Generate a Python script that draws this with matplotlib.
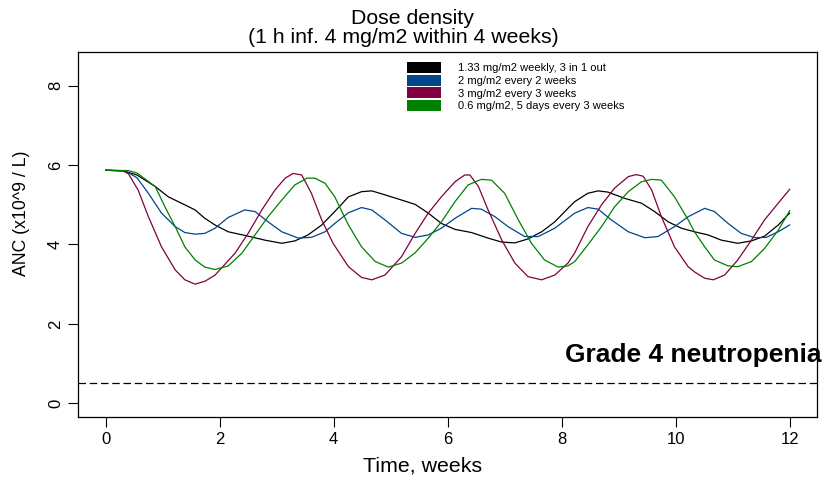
import matplotlib
matplotlib.use("Agg")
import matplotlib.pyplot as plt
from matplotlib.patches import Patch

plt.rcParams['font.family'] = ['Liberation Sans', 'DejaVu Sans']

# ANC curves (weeks, x10^9/L)
weeks_weekly = [0, 0.3, 0.55, 0.87, 1.10, 1.33, 1.57, 1.74, 1.92, 2.15, 2.50, 2.79, 3.09, 3.32,
                3.55, 3.79, 4.02, 4.26, 4.49, 4.67, 4.90, 5.19, 5.43, 5.66, 5.89, 6.13, 6.42,
                6.71, 6.95, 7.18, 7.41, 7.65, 7.88, 8.11, 8.23, 8.46, 8.64, 8.81, 9.11, 9.40,
                9.63, 9.87, 10.10, 10.33, 10.57, 10.80, 11.09, 11.33, 11.56, 11.80, 12.0]
anc_weekly = [5.87, 5.86, 5.75, 5.46, 5.20, 5.04, 4.87, 4.66, 4.49, 4.32, 4.21, 4.11, 4.03, 4.09,
              4.24, 4.49, 4.83, 5.20, 5.33, 5.35, 5.25, 5.12, 5.01, 4.79, 4.53, 4.38, 4.30,
              4.16, 4.06, 4.04, 4.14, 4.32, 4.57, 4.91, 5.08, 5.29, 5.35, 5.32, 5.16, 5.04,
              4.83, 4.57, 4.41, 4.32, 4.24, 4.11, 4.03, 4.09, 4.21, 4.49, 4.79]

weeks_2w = [0, 0.35, 0.55, 0.75, 0.98, 1.22, 1.39, 1.57, 1.74, 1.92, 2.15, 2.44, 2.62, 2.85,
            3.09, 3.38, 3.61, 3.85, 4.02, 4.26, 4.49, 4.67, 4.90, 5.19, 5.43, 5.66, 5.89,
            6.13, 6.42, 6.59, 6.83, 7.06, 7.35, 7.59, 7.88, 8.23, 8.46, 8.64, 8.87, 9.17,
            9.46, 9.69, 9.98, 10.22, 10.51, 10.68, 10.92, 11.15, 11.39, 11.59, 11.80, 12.0]
anc_2w = [5.87, 5.85, 5.68, 5.29, 4.79, 4.45, 4.30, 4.26, 4.28, 4.41, 4.68, 4.87, 4.83, 4.57,
          4.32, 4.16, 4.18, 4.32, 4.53, 4.80, 4.93, 4.87, 4.62, 4.28, 4.18, 4.24, 4.41,
          4.66, 4.91, 4.89, 4.70, 4.45, 4.20, 4.20, 4.41, 4.79, 4.93, 4.89, 4.62, 4.32,
          4.17, 4.20, 4.45, 4.70, 4.91, 4.83, 4.53, 4.28, 4.17, 4.18, 4.32, 4.49]

weeks_3w = [0, 0.31, 0.40, 0.57, 0.75, 0.98, 1.22, 1.39, 1.57, 1.75, 1.92, 2.27, 2.50, 2.74,
            2.97, 3.15, 3.29, 3.44, 3.61, 3.79, 3.99, 4.26, 4.49, 4.67, 4.90, 5.19, 5.43,
            5.66, 5.89, 6.13, 6.30, 6.39, 6.54, 6.71, 6.95, 7.18, 7.41, 7.65, 7.88, 8.11,
            8.23, 8.46, 8.70, 8.93, 9.17, 9.31, 9.43, 9.58, 9.75, 9.98, 10.22, 10.33, 10.51,
            10.66, 10.86, 11.09, 11.33, 11.56, 11.80, 12.0]
anc_3w = [5.87, 5.85, 5.78, 5.37, 4.70, 3.94, 3.36, 3.11, 3.00, 3.08, 3.23, 3.78, 4.28, 4.87,
          5.37, 5.67, 5.79, 5.75, 5.29, 4.62, 4.03, 3.44, 3.17, 3.11, 3.23, 3.69, 4.28,
          4.79, 5.20, 5.58, 5.75, 5.75, 5.46, 4.87, 4.11, 3.53, 3.19, 3.11, 3.23, 3.53,
          3.79, 4.45, 5.00, 5.42, 5.71, 5.76, 5.72, 5.37, 4.70, 3.94, 3.44, 3.31, 3.15,
          3.11, 3.23, 3.61, 4.11, 4.62, 5.04, 5.39]

weeks_5d = [0, 0.40, 0.55, 0.87, 1.04, 1.22, 1.39, 1.57, 1.74, 1.92, 2.15, 2.39, 2.62, 2.85,
            3.09, 3.32, 3.53, 3.67, 3.85, 4.02, 4.26, 4.49, 4.73, 4.96, 5.19, 5.43, 5.66,
            5.89, 6.13, 6.36, 6.59, 6.77, 7.00, 7.24, 7.47, 7.70, 7.94, 8.11, 8.23, 8.46,
            8.70, 8.93, 9.17, 9.40, 9.58, 9.75, 9.98, 10.22, 10.33, 10.51, 10.68, 10.92,
            11.09, 11.33, 11.56, 11.80, 12.0]
anc_5d = [5.87, 5.86, 5.80, 5.46, 4.95, 4.45, 3.94, 3.61, 3.43, 3.37, 3.46, 3.78, 4.24, 4.70,
          5.12, 5.50, 5.67, 5.67, 5.54, 5.20, 4.49, 3.94, 3.57, 3.43, 3.53, 3.79, 4.16,
          4.57, 5.08, 5.50, 5.64, 5.62, 5.29, 4.62, 4.03, 3.61, 3.43, 3.46, 3.57, 3.99,
          4.45, 4.95, 5.33, 5.58, 5.64, 5.62, 5.20, 4.62, 4.32, 3.94, 3.61, 3.46,
          3.44, 3.57, 3.90, 4.36, 4.85]

labels = ["1.33 mg/m2 weekly, 3 in 1 out",
          "2 mg/m2 every 2 weeks",
          "3 mg/m2 every 3 weeks",
          "0.6 mg/m2, 5 days every 3 weeks"]
colors = ["#000000", "#00468b", "#800040", "#008000"]
grade4_level = 0.5

fig = plt.figure(figsize=(8.24, 4.8), dpi=100)
ax = fig.add_axes([0.095, 0.1317, 0.8965, 0.7593])

series = [(weeks_weekly, anc_weekly), (weeks_2w, anc_2w), (weeks_3w, anc_3w), (weeks_5d, anc_5d)]
for (x, y), c in zip(series, colors):
    ax.plot(x, y, color=c, lw=0.9)

ax.axhline(grade4_level, color='black', lw=0.9, linestyle=(0, (6, 3)))
ax.text(10.31, 1.04, "Grade 4 neutropenia", fontsize=19, fontweight='bold',
        ha='center', va='baseline', clip_on=False)

ax.set_xlim(-0.48, 12.48)
ax.set_ylim(-0.34, 8.84)
ax.set_xticks(range(0, 13, 2))
ax.set_yticks(range(0, 9, 2))
ax.tick_params(direction='out', length=7, width=0.8, labelsize=12, pad=4)
for lab in ax.get_yticklabels():
    lab.set_rotation(90)
    lab.set_va('center')
for s in ax.spines.values():
    s.set_linewidth(0.9)

# titles sit a bit left / up of the box centre, as in the reference
fig.text(0.500, 0.9625, "Dose density", fontsize=15.3, ha='center', va='center')
fig.text(0.490, 0.921, "(1 h inf. 4 mg/m2 within 4 weeks)", fontsize=15.3,
         ha='center', va='center')
fig.text(0.513, 0.030, "Time, weeks", fontsize=15.4, ha='center', va='center')
fig.text(0.026, 0.556, "ANC (x10^9 / L)", fontsize=12.7, ha='center', va='center',
         rotation=90)

handles = [Patch(facecolor=c, edgecolor='none') for c in colors]
ax.legend(handles, labels, loc='upper left', bbox_to_anchor=(0.445, 0.973),
          frameon=False, fontsize=8, handlelength=3.06, handleheight=1.15,
          handletextpad=1.5, labelspacing=0.12, borderpad=0, borderaxespad=0)

fig.savefig("out.png", dpi=100)
